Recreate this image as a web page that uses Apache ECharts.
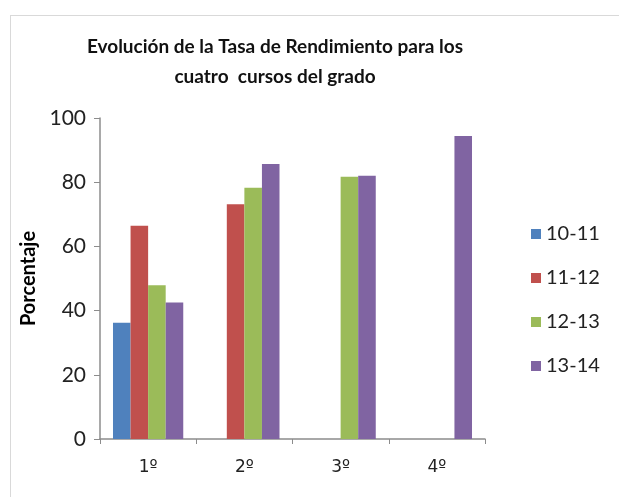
<!DOCTYPE html>
<html>
<head>
<meta charset="utf-8">
<script src="https://cdn.jsdelivr.net/npm/echarts@6/dist/echarts.min.js"></script>
<style>
  html, body { margin: 0; padding: 0; background: #fff; }
  #frame { position: absolute; left: 10px; top: 15px; width: 640px; height: 520px; border: 1px solid #d9d9d9; }
  #chart { position: absolute; left: 0; top: 0; width: 619px; height: 497px; }
</style>
</head>
<body>
<div id="frame"></div>
<div id="chart"></div>
<script>
// cursos del grado
const cursos = ['1º', '2º', '3º', '4º'];
const anyos = ['10-11', '11-12', '12-13', '13-14'];
const colores = ['#4F81BD', '#C0504D', '#9BBB59', '#8064A2'];

// tasa de rendimiento (%) por curso academico
const tasa1011 = [36.2, null, null, null];
const tasa1112 = [66.4, 73.1, null, null];
const tasa1213 = [47.9, 78.3, 81.7, null];
const tasa1314 = [42.5, 85.7, 82.0, 94.4];

const yTicks = [0, 20, 40, 60, 80, 100];

const valores = [tasa1011, tasa1112, tasa1213, tasa1314];
const fuente = 'Lato';

let chart = echarts.init(document.getElementById('chart'));
chart.setOption({
  animation: false,
  title: {
    text: 'Evolución de la Tasa de Rendimiento para los\ncuatro  cursos del grado',
    left: 270,
    top: 27,
    textAlign: 'center',
    textStyle: {
      fontFamily: fuente,
      fontSize: 19,
      fontWeight: 'bold',
      color: '#111',
      lineHeight: 30
    }
  },
  legend: {
    orient: 'vertical',
    left: 526,
    top: 219,
    itemWidth: 10,
    itemHeight: 10,
    itemGap: 24,
    icon: 'rect',
    data: anyos,
    textStyle: { fontFamily: fuente, fontSize: 20, color: '#222' }
  },
  grid: { left: 100, right: 134, top: 118, bottom: 58 },
  xAxis: {
    type: 'category',
    data: cursos,
    axisLine: { lineStyle: { color: '#8c8c8c', width: 1.5 } },
    axisTick: { show: true, length: 5, lineStyle: { color: '#8c8c8c' } },
    axisLabel: { fontFamily: 'DejaVu Sans', fontSize: 17, color: '#222', margin: 20 }
  },
  yAxis: {
    type: 'value',
    min: yTicks[0],
    max: yTicks[yTicks.length - 1],
    interval: 20,
    name: 'Porcentaje',
    nameLocation: 'middle',
    nameGap: 60,
    nameTextStyle: { fontFamily: fuente, fontSize: 20, fontWeight: 'bold', color: '#000' },
    axisLine: { show: true, lineStyle: { color: '#8c8c8c', width: 1.5 } },
    axisTick: { show: true, length: 6, lineStyle: { color: '#8c8c8c' } },
    splitLine: { show: false },
    axisLabel: { fontFamily: fuente, fontSize: 21, color: '#222', margin: 14 }
  },
  series: anyos.map(function (a, i) {
    return {
      name: a,
      type: 'bar',
      data: valores[i],
      barGap: '0%',
      barCategoryGap: '27%',
      itemStyle: { color: colores[i] }
    };
  })
});
</script>
</body>
</html>
